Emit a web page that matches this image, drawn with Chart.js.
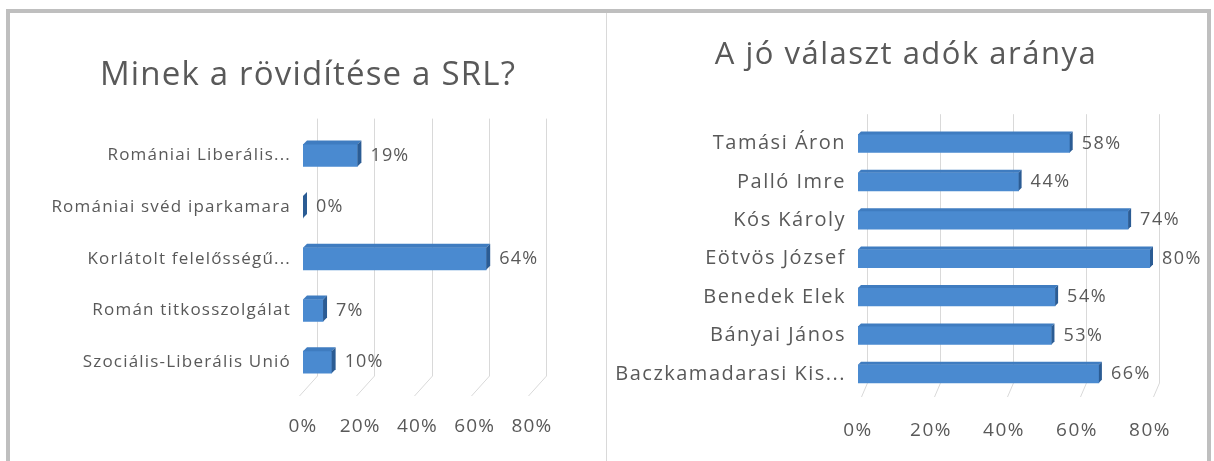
<!DOCTYPE html>
<html>
<head>
<meta charset="utf-8">
<script src="https://cdn.jsdelivr.net/npm/chart.js@4"></script>
<style>
  body { margin: 0; background: #fff; }
  #frame { position: absolute; left: 6px; top: 9px; width: 1197px; height: 460px;
           border-left: 4px solid #bfbfbf; border-top: 4px solid #bfbfbf; border-right: 4px solid #bfbfbf; }
  #divider { position: absolute; left: 606px; top: 13px; width: 1px; height: 448px; background: #d9d9d9; }
  .box { position: absolute; top: 14px; height: 447px; }
  #box1 { left: 10px; width: 596px; }
  #box2 { left: 609px; width: 594px; }
</style>
</head>
<body>
<div id="frame"></div>
<div id="divider"></div>
<div class="box" id="box1"><canvas id="chart1"></canvas></div>
<div class="box" id="box2"><canvas id="chart2"></canvas></div>
<script>
// Chart 1 data
const srlLabels = ['Romániai Liberális...', 'Romániai svéd iparkamara', 'Korlátolt felelősségű...', 'Román titkosszolgálat', 'Szociális-Liberális Unió'];
const srlValues = [19, 0, 64, 7, 10];

// Chart 2 data
const authorLabels = ['Tamási Áron', 'Palló Imre', 'Kós Károly', 'Eötvös József', 'Benedek Elek', 'Bányai János', 'Baczkamadarasi Kis...'];
const authorValues = [58, 44, 74, 80, 54, 53, 66];

const tickValues = [0, 20, 40, 60, 80];

const textColor = '#595959';
const fontFamily = '"Open Sans", sans-serif';

// wider text, like the stretched original
const spacing = {
    id: 'spacing',
    beforeDraw(chart, args, opts) {
        chart.ctx.letterSpacing = opts.px + 'px';
    }
};

// back wall gridlines with a slanted floor part
const wallGrid = {
    id: 'wallGrid',
    beforeDatasetsDraw(chart, args, opts) {
        const ctx = chart.ctx;
        const area = chart.chartArea;
        const xs = chart.scales.x;
        ctx.save();
        ctx.strokeStyle = '#d9d9d9';
        ctx.lineWidth = 1;
        tickValues.forEach(function(v) {
            const px = Math.round(xs.getPixelForValue(v)) + 0.5;
            ctx.beginPath();
            ctx.moveTo(px + opts.shift, area.top - opts.up);
            ctx.lineTo(px + opts.shift, area.bottom - opts.floor);
            ctx.lineTo(px + opts.foot, area.bottom + opts.drop);
            ctx.stroke();
        });
        ctx.restore();
    }
};

// fake 3D faces + value labels
const bar3d = {
    id: 'bar3d',
    afterDatasetsDraw(chart, args, opts) {
        const ctx = chart.ctx;
        const d = opts.depth;
        const meta = chart.getDatasetMeta(0);
        ctx.save();
        meta.data.forEach(function(bar, i) {
            const top = bar.y - bar.height / 2;
            const bottom = bar.y + bar.height / 2;
            // top face
            ctx.fillStyle = '#3f7cc0';
            ctx.beginPath();
            ctx.moveTo(bar.base, top);
            ctx.lineTo(bar.base + d, top - d);
            ctx.lineTo(bar.x + d, top - d);
            ctx.lineTo(bar.x, top);
            ctx.closePath();
            ctx.fill();
            // right face
            ctx.fillStyle = '#2b5c94';
            ctx.beginPath();
            ctx.moveTo(bar.x, top);
            ctx.lineTo(bar.x + d, top - d);
            ctx.lineTo(bar.x + d, bottom - d);
            ctx.lineTo(bar.x, bottom);
            ctx.closePath();
            ctx.fill();
            // value label
            ctx.fillStyle = textColor;
            ctx.font = opts.labelSize + 'px ' + fontFamily;
            ctx.textAlign = 'left';
            ctx.textBaseline = 'middle';
            ctx.fillText(chart.data.datasets[0].data[i] + '%', bar.x + d + 9, bar.y);
        });
        ctx.restore();
    }
};

function makeChart(el, labels, values, cfg) {
    return new Chart(el, {
        type: 'bar',
        data: {
            labels: labels,
            datasets: [{
                data: values,
                backgroundColor: '#4a8ad0',
                barThickness: cfg.thickness
            }]
        },
        plugins: [spacing, wallGrid, bar3d],
        options: {
            indexAxis: 'y',
            responsive: true,
            maintainAspectRatio: false,
            animation: false,
            layout: { padding: 0 },
            plugins: {
                legend: { display: false },
                tooltip: { enabled: false },
                title: {
                    display: true,
                    text: cfg.title,
                    color: textColor,
                    font: { family: fontFamily, size: cfg.titleSize, weight: 'normal' },
                    padding: { top: cfg.titleTop, bottom: cfg.titleBottom }
                },
                spacing: { px: cfg.spacing },
                wallGrid: cfg.grid,
                bar3d: { depth: cfg.depth, labelSize: 18 }
            },
            scales: {
                x: {
                    min: 0,
                    max: 80,
                    afterBuildTicks: function(scale) {
                        scale.ticks = tickValues.map(function(v) { return { value: v }; });
                    },
                    afterFit: function(scale) { scale.height = cfg.xHeight; },
                    border: { display: false },
                    grid: { display: false, drawTicks: false },
                    ticks: {
                        color: textColor,
                        font: { family: fontFamily, size: 19 },
                        padding: cfg.tickPad,
                        callback: function(v) { return v + '%'; }
                    }
                },
                y: {
                    afterFit: function(scale) { scale.width = cfg.yWidth; },
                    border: { display: false },
                    grid: { display: false, drawTicks: false },
                    ticks: {
                        color: textColor,
                        font: { family: fontFamily, size: cfg.labelSize },
                        padding: 12
                    }
                },
                // empty right-hand box, keeps room for value labels without moving the title
                pad: {
                    type: 'linear',
                    position: 'right',
                    afterFit: function(scale) { scale.width = cfg.rightPad; },
                    border: { display: false },
                    grid: { display: false, drawTicks: false },
                    ticks: { display: false }
                }
            }
        }
    });
}

makeChart(document.getElementById('chart1'), srlLabels, srlValues, {
    title: 'Minek a rövidítése a SRL?',
    titleSize: 33, labelSize: 17, spacing: 1.2,
    thickness: 22, depth: 4,
    rightPad: 74, yWidth: 293,
    titleTop: 42, titleBottom: 34,
    xHeight: 73, tickPad: 27,
    grid: { shift: 14, up: 11, floor: 12, foot: -4, drop: 8 }
});

makeChart(document.getElementById('chart2'), authorLabels, authorValues, {
    title: 'A jó választ adók aránya',
    titleSize: 31, labelSize: 20, spacing: 1.5,
    thickness: 18, depth: 3,
    rightPad: 53, yWidth: 249,
    titleTop: 23, titleBottom: 50,
    xHeight: 68, tickPad: 26,
    grid: { shift: 9, up: 10, floor: 10, foot: 3, drop: 4 }
});
</script>
</body>
</html>
